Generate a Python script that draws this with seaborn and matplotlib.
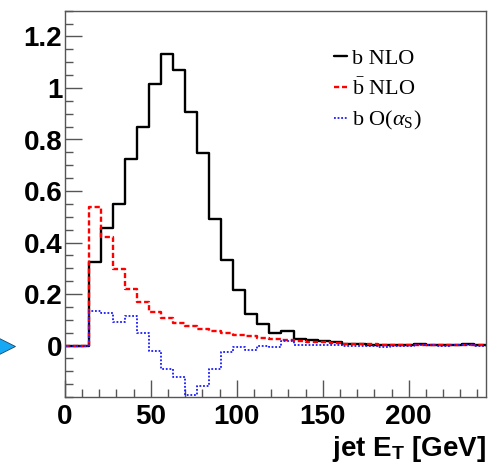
import numpy as np
import pandas as pd
import matplotlib
matplotlib.use("Agg")
import matplotlib.pyplot as plt
import matplotlib.transforms as mtransforms
from matplotlib.lines import Line2D
from matplotlib.ticker import MultipleLocator
import seaborn as sns

# ---- data (7 GeV bins from 0 to 245 GeV) ----
bin_width = 7
x_range = (0, 245)
bin_centers = np.arange(x_range[0], x_range[1], bin_width) + bin_width / 2

b_nlo = [0.0, 0.0, 0.325, 0.455, 0.551, 0.724, 0.849, 1.015, 1.133, 1.068,
         0.908, 0.746, 0.492, 0.331, 0.214, 0.121, 0.084, 0.049, 0.056, 0.026,
         0.022, 0.017, 0.013, 0.007, 0.007, 0.004, 0.004, 0.001, 0.004, 0.008,
         0.003, 0.002, 0.003, 0.005, 0.001]
bbar_nlo = [0.0, 0.0, 0.537, 0.423, 0.299, 0.219, 0.168, 0.130, 0.106, 0.088,
            0.075, 0.066, 0.057, 0.048, 0.043, 0.036, 0.030, 0.025, 0.020, 0.017,
            0.014, 0.012, 0.009, 0.008, 0.006, 0.005, 0.004, 0.003, 0.003, 0.002,
            0.002, 0.002, 0.001, 0.001, 0.001]
b_alphas = [0.0, 0.0, 0.133, 0.126, 0.090, 0.116, 0.048, -0.020, -0.090, -0.120,
            -0.191, -0.157, -0.092, -0.023, -0.004, -0.017, 0.000, -0.006, 0.017, 0.003,
            0.004, 0.002, 0.001, 0.000, -0.002, -0.001, -0.004, -0.003, 0.000, 0.002,
            0.001, 0.000, 0.001, 0.002, 0.000]

labels = ["b NLO", r"$\bar{\mathrm{b}}$ NLO", r"b O($\alpha_{\mathrm{S}}$)"]
xlabel = r"jet E$_{\mathbf{T}}$ [GeV]"
ytick_vals = [0, 0.2, 0.4, 0.6, 0.8, 1.0, 1.2]
ytick_text = ["0", "0.2", "0.4", "0.6", "0.8", "1", "1.2"]

df = pd.DataFrame({"et": bin_centers, "b_nlo": b_nlo,
                   "bbar_nlo": bbar_nlo, "b_alphas": b_alphas})

sns.set_theme(style="white")
plt.rcParams["font.family"] = ["Liberation Sans", "DejaVu Sans"]
plt.rcParams["mathtext.fontset"] = "custom"
plt.rcParams["mathtext.rm"] = "Liberation Serif"
plt.rcParams["mathtext.it"] = "Liberation Serif:italic"
plt.rcParams["mathtext.bf"] = "Liberation Sans:bold"
plt.rcParams["text.color"] = "black"
plt.rcParams["xtick.color"] = "black"
plt.rcParams["ytick.color"] = "black"
plt.rcParams["axes.labelcolor"] = "black"

fig = plt.figure(figsize=(4.88, 4.65), dpi=100)
ax = fig.add_axes([0.133, 0.146, 0.863, 0.831])

styles = [("b_nlo", "black", "-", 1.7),
          ("bbar_nlo", "#ff0000", (0, (2.2, 1.2)), 1.7),
          ("b_alphas", "#1a1aff", (0, (1, 1)), 1.3)]
for col, color, ls, lw in styles:
    sns.histplot(data=df, x="et", weights=col, binwidth=bin_width, binrange=x_range,
                 element="step", fill=False, color=color, linestyle=ls,
                 linewidth=lw, ax=ax)

ax.set_xlim(*x_range)
ax.set_ylim(-0.2, 1.3)
ax.set_ylabel("")
ax.set_xlabel(xlabel, fontsize=20, fontweight="bold", loc="right", labelpad=3)

ax.xaxis.set_major_locator(MultipleLocator(50))
ax.xaxis.set_minor_locator(MultipleLocator(10))
ax.yaxis.set_minor_locator(MultipleLocator(0.05))
ax.set_yticks(ytick_vals)
ax.set_yticklabels(ytick_text)
ax.tick_params(axis="both", which="both", direction="in", left=True, bottom=True,
               top=False, right=False, color="#555555", labelcolor="black")
ax.tick_params(axis="both", which="major", length=12, width=1, labelsize=20)
ax.tick_params(axis="x", which="major", pad=5)
ax.tick_params(axis="y", which="major", pad=2)
ax.tick_params(axis="both", which="minor", length=6, width=1)
for lab in ax.get_xticklabels() + ax.get_yticklabels():
    lab.set_fontweight("bold")
for sp in ax.spines.values():
    sp.set_color("#555555")
    sp.set_linewidth(1.0)

handles = [Line2D([], [], color=c, linestyle=ls, linewidth=lw) for _, c, ls, lw in styles]
leg = ax.legend(handles, labels, loc="upper left", bbox_to_anchor=(0.638, 0.902),
                frameon=False, prop={"family": "Liberation Serif", "size": 16},
                handlelength=0.6, handletextpad=0.25, labelspacing=0.42,
                borderpad=0, borderaxespad=0)

# arrow marker at y = 0 on the left margin
trans = mtransforms.blended_transform_factory(ax.transAxes, ax.transData)
ax.plot([-0.142], [0], marker=">", markersize=14, color="#14a8f5",
        markeredgecolor="#224466", markeredgewidth=0.6, transform=trans, clip_on=False)

fig.savefig("out.png", dpi=100)
